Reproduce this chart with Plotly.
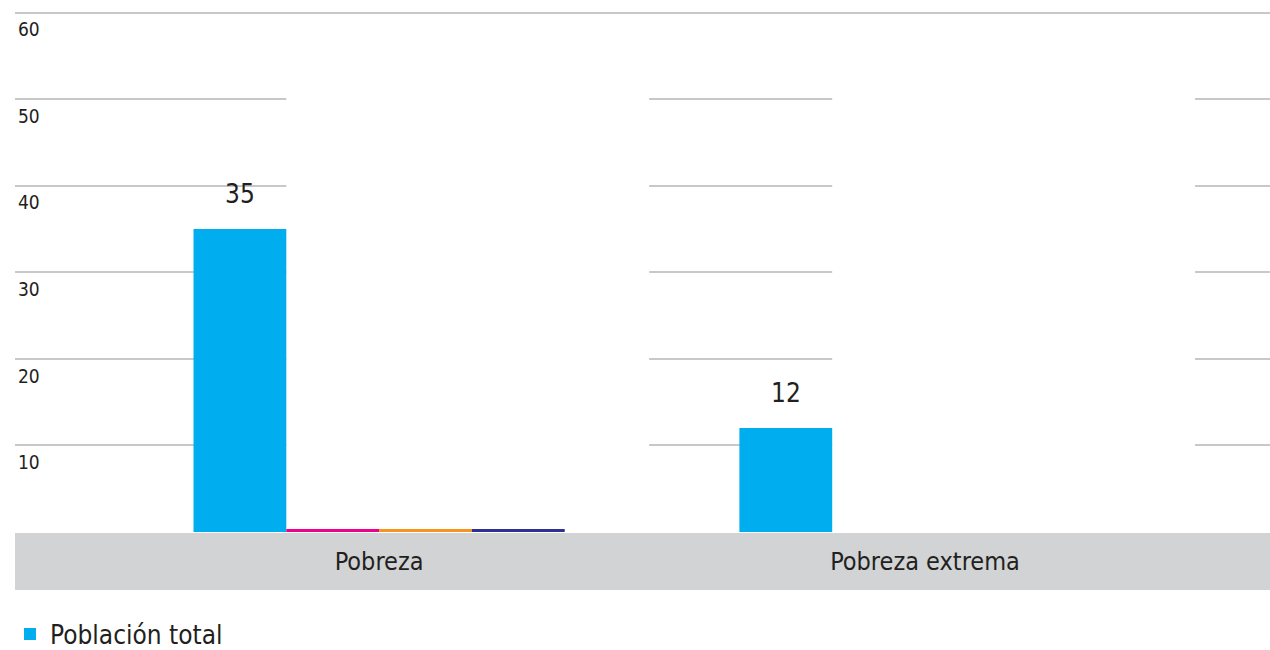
import plotly.graph_objects as go

categories = ["Pobreza", "Pobreza extrema"]
series_names = ["Población total", "Serie 2", "Serie 3", "Serie 4"]
poblacion_total = [35, 12]
serie_2 = [0.35, 0]
serie_3 = [0.35, 0]
serie_4 = [0.35, 0]
value_labels = ["35", "12"]
y_ticks = [10, 20, 30, 40, 50, 60]

colors = ["#00AEEF", "#EC008C", "#F7941D", "#2E3192"]
FONT = "DejaVu Sans Condensed, Liberation Sans Narrow, Roboto, sans-serif"
TXT = "#231F20"

BARGAP = 0.32
n_series = 4
bw = (1 - BARGAP) / n_series

fig = go.Figure()
for name, vals, col, show in zip(series_names, [poblacion_total, serie_2, serie_3, serie_4], colors,
                                 [True, False, False, False]):
    fig.add_trace(go.Bar(x=categories, y=vals, name=name, marker=dict(color=col, line=dict(width=0)),
                         showlegend=show, hoverinfo="x+y+name"))

annotations = []
for i, (v, lab) in enumerate(zip(poblacion_total, value_labels)):
    annotations.append(dict(x=i - 1.5 * bw, y=v, xref="x", yref="y", text=lab, showarrow=False,
                            yanchor="bottom", yshift=18, font=dict(family=FONT, size=26, color=TXT)))

shapes = [
    dict(type="rect", xref="paper", yref="paper", x0=0, x1=1, y0=-0.111, y1=-0.002,
         fillcolor="#D1D3D4", line=dict(width=0), layer="below"),
]
for i in range(len(categories)):
    shapes.append(dict(type="rect", xref="x", yref="y", x0=i - bw, x1=i + 2.91 * bw, y0=0, y1=52,
                       fillcolor="white", line=dict(width=0), layer="between"))

fig.update_layout(
    width=1270, height=650, autosize=False,
    margin=dict(l=15, r=0, t=10, b=118, autoexpand=False),
    barmode="group", bargap=BARGAP, bargroupgap=0,
    plot_bgcolor="white", paper_bgcolor="white",
    font=dict(family=FONT, color=TXT),
    xaxis=dict(type="category", range=[-0.667, 1.632], showgrid=False, zeroline=False, showline=False,
               ticks="", tickfont=dict(family=FONT, size=25, color=TXT), ticklabelstandoff=12,
               automargin=False),
    yaxis=dict(range=[0, 60.3], tickvals=y_ticks, showgrid=True, gridcolor="#C8C8C8", gridwidth=2,
               zeroline=False, showline=False, ticks="", ticklabelposition="inside",
               ticklabelshift=17, tickfont=dict(family=FONT, size=19, color=TXT), automargin=False),
    legend=dict(x=-0.004, y=-0.1954, xanchor="left", yanchor="middle", orientation="h",
                font=dict(family=FONT, size=26, color=TXT), bgcolor="rgba(0,0,0,0)"),
    annotations=annotations,
    shapes=shapes,
)

post = """
document.body.style.margin='0';
document.body.style.overflow='hidden';
var gd = document.getElementById('{plot_id}');
gd.style.width='1270px'; gd.style.height='650px';
Plotly.relayout(gd, {width: 1270, height: 650, autosize: false});
"""
fig.write_html("out.html", config={"displayModeBar": False, "responsive": False}, post_script=post)
